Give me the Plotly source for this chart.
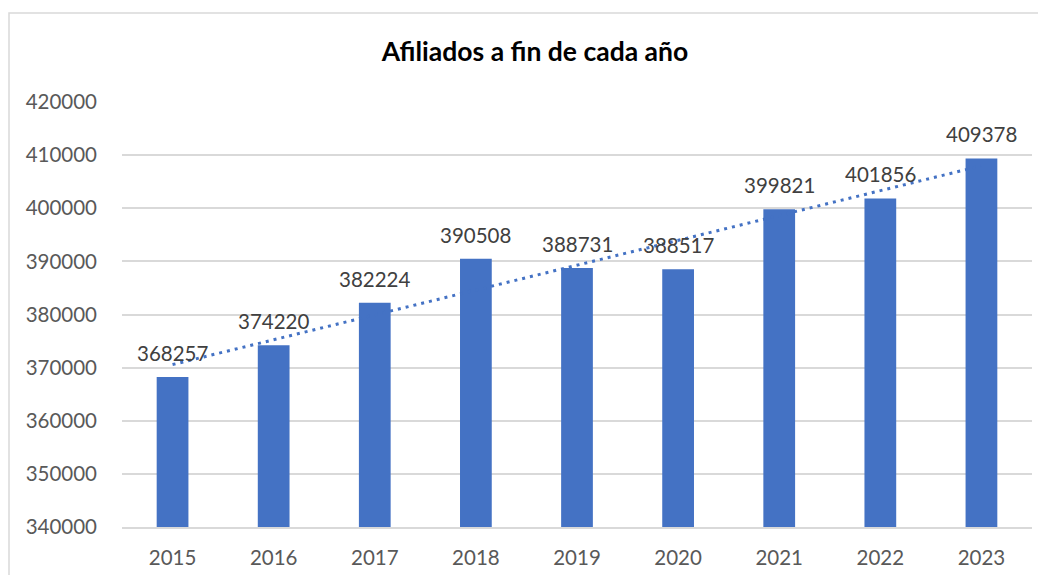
import numpy as np
import plotly.graph_objects as go

years = ["2015", "2016", "2017", "2018", "2019", "2020", "2021", "2022", "2023"]
afiliados = [368257, 374220, 382224, 390508, 388731, 388517, 399821, 401856, 409378]
y_ticks = [340000, 350000, 360000, 370000, 380000, 390000, 400000, 410000, 420000]

BLUE = "#4472C4"
FONT = "Lato, Open Sans, sans-serif"

# linear trendline fit from data
idx = np.arange(len(afiliados))
slope, intercept = np.polyfit(idx, afiliados, 1)
trend = slope * idx + intercept

fig = go.Figure()
fig.add_trace(go.Bar(
    x=years, y=afiliados, marker=dict(color=BLUE, line=dict(width=0)),
    showlegend=False,
))
fig.add_trace(go.Scatter(
    x=years, y=trend, mode="lines",
    line=dict(color=BLUE, width=3, dash="3px,5px"),
    showlegend=False, hoverinfo="skip",
))

# data labels
annotations = [
    dict(x=i, y=v, text=str(v), showarrow=False, xref="x", yref="y",
         yanchor="bottom", yshift=10,
         font=dict(family=FONT, size=20.5, color="#404040"))
    for i, v in enumerate(afiliados)
]

OFF = 8  # page body margin
W, H = 1046 - 2 * OFF, 583 - 2 * OFF
L = 122 - OFF
T = 102 - OFF
R = W - (1032 - OFF)
B = H - (527 - OFF)
pw, ph = W - L - R, H - T - B

fig.update_layout(
    width=W, height=H,
    margin=dict(l=L, r=R, t=T, b=B),
    paper_bgcolor="white", plot_bgcolor="white",
    bargap=0.686,
    annotations=annotations,
    title=dict(text="<b>Afiliados a fin de cada año</b>", x=(535 - OFF) / W, xanchor="center",
               y=1 - (52 - OFF) / H, yanchor="middle",
               font=dict(family=FONT, size=26.5, color="#000000")),
    xaxis=dict(type="category", showgrid=False, showline=True, linecolor="#D9D9D9", linewidth=1.5,
               ticks="", tickfont=dict(family=FONT, size=20.5, color="#595959"),
               ticklabelstandoff=12),
    yaxis=dict(range=[340000, 420000], tickvals=y_ticks, ticktext=[str(v) for v in y_ticks],
               showgrid=True, gridcolor="#D9D9D9", gridwidth=1.5, zeroline=False,
               showline=False, ticks="",
               tickfont=dict(family=FONT, size=20.5, color="#595959"),
               ticklabelstandoff=24),
    shapes=[dict(type="rect", xref="paper", yref="paper",
                 x0=(9 - OFF - L) / pw, x1=(W + 30 - L) / pw,
                 y0=-(60 + B) / ph, y1=1 + (T - (13 - OFF)) / ph,
                 line=dict(color="#D9D9D9", width=1.5), layer="below")],
)

fig.write_html("out.html")
